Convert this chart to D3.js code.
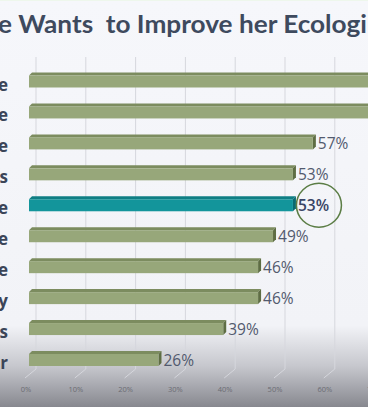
<!DOCTYPE html>
<html>
<head>
<meta charset="utf-8">
<script src="https://cdn.jsdelivr.net/npm/d3@7"></script>
<style>
html,body{margin:0;padding:0;background:#f6f7fb;overflow:hidden;}
svg{display:block;}
</style>
</head>
<body>
<svg id="chart" width="368" height="407"></svg>
<script>
const title = "e Wants  to Improve her Ecologi";
const categories = ["e", "e", "e", "s", "e", "e", "e", "y", "s", "ar"];
const values = [0.73, 0.70, 0.57, 0.53, 0.53, 0.49, 0.46, 0.46, 0.39, 0.26];
const highlightIndex = 4;
const tickValues = [0, 0.1, 0.2, 0.3, 0.4, 0.5, 0.6, 0.7];
const tickLabels = ["0%", "10%", "20%", "30%", "40%", "50%", "60%", "70%"];

const W = 368, H = 407;
const svg = d3.select("#chart");

const defs = svg.append("defs");
const bg = defs.append("linearGradient").attr("id", "bgGrad")
  .attr("x1", 0).attr("y1", 0).attr("x2", 0).attr("y2", 1);
bg.append("stop").attr("offset", "0%").attr("stop-color", "#f6f7fb");
bg.append("stop").attr("offset", "80%").attr("stop-color", "#f2f3f7");
bg.append("stop").attr("offset", "90%").attr("stop-color", "#c6c7cd");
bg.append("stop").attr("offset", "100%").attr("stop-color", "#87888f");
svg.append("rect").attr("width", W).attr("height", H).attr("fill", "url(#bgGrad)");
svg.append("rect").attr("x", 0).attr("y", 0).attr("width", W).attr("height", 1).attr("fill", "#eef7ec");

const x = d3.scaleLinear().domain([0, 1]).range([29, 527]);
const y = d3.scalePoint().domain(d3.range(categories.length)).range([81.5, 360]);
const depthX = 3, depthY = 3, halfH = 6;
const backX = 7, gridTop = 57, gridBottom = 369, floorY = 378, floorX = -4;

// gridlines (back wall + floor diagonal)
const grid = svg.append("g");
tickValues.forEach(v => {
  const gx = x(v) + backX;
  grid.append("path")
    .attr("d", `M${gx},${gridTop}V${gridBottom}L${x(v) + floorX},${floorY}`)
    .attr("fill", "none").attr("stroke", "#d6d7dd").attr("stroke-width", 1);
});

// axis tick labels
svg.append("g").selectAll("text").data(tickValues).join("text")
  .attr("x", d => x(d) - 3).attr("y", 391.5)
  .attr("text-anchor", "middle")
  .attr("font-family", "Open Sans, sans-serif").attr("font-size", 7.5)
  .attr("fill", "#6a6b72")
  .text((d, i) => tickLabels[i]);

// bars
const bars = svg.append("g").selectAll("g").data(values).join("g");
bars.each(function(v, i) {
  const g = d3.select(this);
  const hi = i === highlightIndex;
  const front = hi ? "#13959b" : "#97a77a";
  const top = hi ? "#0f7e84" : "#7c8c5f";
  const side = hi ? "#0b6a70" : "#5e6d43";
  const x0 = x(0), x1 = x(v), yc = y(i);
  const yt = yc - halfH, yb = yc + halfH;
  g.append("path")
    .attr("d", `M${x0},${yt}L${x0 + depthX},${yt - depthY}L${x1 + depthX},${yt - depthY}L${x1},${yt}Z`)
    .attr("fill", top);
  g.append("path")
    .attr("d", `M${x1},${yt}L${x1 + depthX},${yt - depthY}L${x1 + depthX},${yb - depthY}L${x1},${yb}Z`)
    .attr("fill", side);
  g.append("rect")
    .attr("x", x0).attr("y", yt).attr("width", x1 - x0).attr("height", yb - yt)
    .attr("fill", front);
  g.append("text")
    .attr("x", x1 + depthX + 2).attr("y", yb - 0.5)
    .attr("font-family", "Open Sans, sans-serif")
    .attr("font-size", 15.5)
    .attr("font-weight", hi ? 600 : 400)
    .attr("fill", hi ? "#3a4566" : "#525a6e")
    .text(Math.round(v * 100) + "%");
});

// category labels (cut off on the left)
svg.append("g").selectAll("text").data(categories).join("text")
  .attr("x", 8).attr("y", (d, i) => y(i) + 9)
  .attr("text-anchor", "end")
  .attr("font-family", "Open Sans, sans-serif").attr("font-size", 17).attr("font-weight", 700)
  .attr("fill", "#3b4558")
  .text(d => d);

// highlight circle
svg.append("ellipse")
  .attr("cx", x(values[highlightIndex]) + 26).attr("cy", y(highlightIndex))
  .attr("rx", 22.5).attr("ry", 22)
  .attr("fill", "none").attr("stroke", "#5b7d45").attr("stroke-width", 1.5);

// title
svg.append("text")
  .attr("x", -2).attr("y", 33)
  .attr("font-family", "Lato, sans-serif").attr("font-size", 25).attr("font-weight", 700)
  .attr("fill", "#3e4a5e")
  .style("white-space", "pre")
  .attr("textLength", 369).attr("lengthAdjust", "spacingAndGlyphs")
  .text(title);
</script>
</body>
</html>
